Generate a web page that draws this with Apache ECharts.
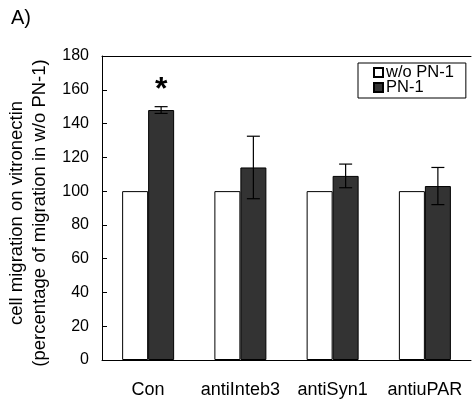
<!DOCTYPE html>
<html>
<head>
<meta charset="utf-8">
<script src="https://cdn.jsdelivr.net/npm/echarts@6/dist/echarts.min.js"></script>
<style>
html,body{margin:0;padding:0;background:#fff;}
#chart{width:473px;height:408px;}
</style>
</head>
<body>
<div id="chart"></div>
<script>
const categories = ['Con', 'antiInteb3', 'antiSyn1', 'antiuPAR'];
const woPN1 = [100, 100, 100, 100];
const PN1 = [148, 114, 109, 103];
const PN1Err = [2, 18.5, 7, 11];
const yTicks = [0, 20, 40, 60, 80, 100, 120, 140, 160, 180];
const seriesNames = ['w/o PN-1', 'PN-1'];
const signif = [{cat: 'Con', value: 160, text: '*'}];

const FONT = 'Liberation Sans, Arial, sans-serif';
const BAR_W = 26;

const errData = PN1.map((v, i) => [i, v - PN1Err[i], v + PN1Err[i]]);

const chart = echarts.init(document.getElementById('chart'), null, {renderer: 'canvas'});
chart.setOption({
  animation: false,
  backgroundColor: '#fff',
  textStyle: {fontFamily: FONT, color: '#000'},
  title: {
    text: 'A)', left: 6, top: 3,
    textStyle: {fontFamily: FONT, fontSize: 20, fontWeight: 'normal', color: '#000'}
  },
  legend: {
    data: seriesNames,
    orient: 'vertical',
    left: 358, top: 63,
    itemWidth: 9, itemHeight: 9, itemGap: -2,
    icon: 'rect',
    borderColor: '#000', borderWidth: 1, borderRadius: 0,
    padding: [1, 12, 2, 15],
    textStyle: {fontFamily: FONT, fontSize: 16.5, lineHeight: 14, color: '#000', padding: [0, 0, 0, -2]}
  },
  grid: {left: 102, right: 2, top: 56, bottom: 48, containLabel: false, outerBoundsMode: 'none'},
  xAxis: [{
    type: 'category', data: categories,
    axisLine: {lineStyle: {color: '#000', width: 1}},
    axisTick: {show: false},
    axisLabel: {fontFamily: FONT, fontSize: 18, color: '#000', margin: 21, interval: 0}
  }, {
    type: 'category', data: categories, position: 'top',
    axisLine: {show: true, lineStyle: {color: '#000', width: 1}},
    axisTick: {show: false}, axisLabel: {show: false}
  }],
  yAxis: {
    type: 'value', min: yTicks[0], max: yTicks[yTicks.length - 1], interval: yTicks[1] - yTicks[0],
    axisLine: {show: true, lineStyle: {color: '#000', width: 1}},
    axisTick: {show: true, inside: true, length: 5, lineStyle: {color: '#000'}},
    splitLine: {show: false},
    axisLabel: {fontFamily: FONT, fontSize: 16, color: '#000', margin: 13},
    name: 'cell migration on vitronectin\n(percentage of migration in w/o PN-1)',
    nameLocation: 'middle', nameRotate: 90, nameGap: 49,
    nameTextStyle: {fontFamily: FONT, fontSize: 18.5, color: '#000', lineHeight: 23, padding: [0, 10, 0, 0]}
  },
  series: [{
    name: seriesNames[0], type: 'bar', data: woPN1, barWidth: BAR_W, barGap: '0%',
    itemStyle: {color: '#fff', borderColor: '#000', borderWidth: 1}
  }, {
    name: seriesNames[1], type: 'bar', data: PN1, barWidth: BAR_W, barGap: '0%',
    itemStyle: {color: '#333333', borderColor: '#000', borderWidth: 1},
    markPoint: {
      symbol: 'circle', symbolSize: 0,
      label: {show: true, position: 'inside', fontFamily: FONT, fontSize: 32, fontWeight: 'bold', color: '#000',
        formatter: (p) => p.data.text},
      data: signif.map(s => ({coord: [s.cat, s.value], text: s.text}))
    }
  }, {
    type: 'custom', name: 'err', data: errData, z: 10,
    encode: {x: 0, y: [1, 2]},
    renderItem: function (params, api) {
      const idx = api.value(0);
      const lo = api.coord([idx, api.value(1)]);
      const hi = api.coord([idx, api.value(2)]);
      const x = lo[0] + BAR_W / 2;
      const cap = 6.5;
      const st = {stroke: '#000', lineWidth: 1.2};
      return {type: 'group', children: [
        {type: 'line', shape: {x1: x, y1: lo[1], x2: x, y2: hi[1]}, style: st},
        {type: 'line', shape: {x1: x - cap, y1: hi[1], x2: x + cap, y2: hi[1]}, style: st},
        {type: 'line', shape: {x1: x - cap, y1: lo[1], x2: x + cap, y2: lo[1]}, style: st}
      ]};
    }
  }]
});
</script>
</body>
</html>
